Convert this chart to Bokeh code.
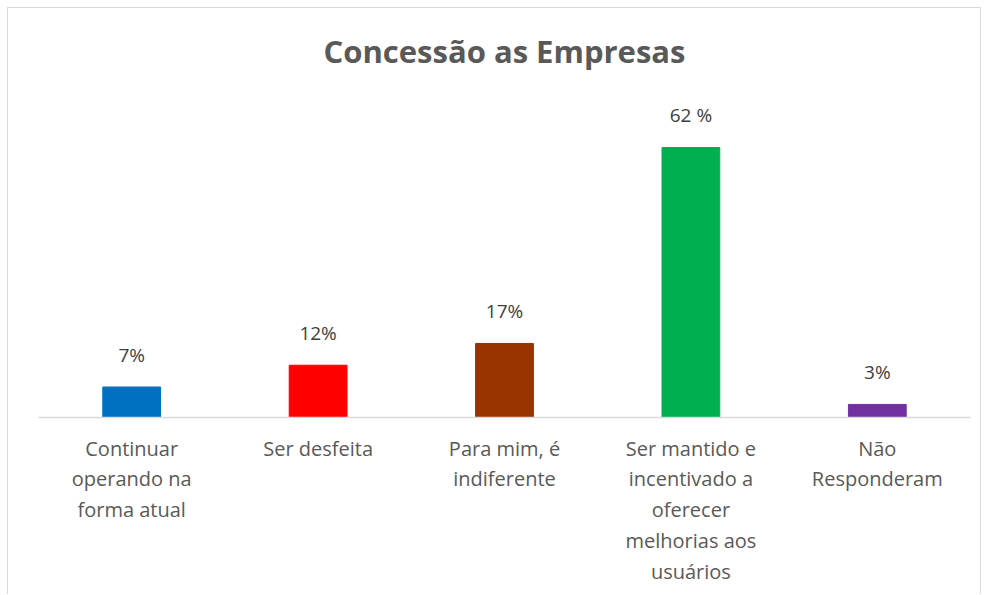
from bokeh.plotting import figure
from bokeh.models import ColumnDataSource, FactorRange, Range1d
from bokeh.core.properties import value
from bokeh.embed import file_html
from bokeh.resources import INLINE

categories = [
    "Continuar\noperando na\nforma atual",
    "Ser desfeita",
    "Para mim, é\nindiferente",
    "Ser mantido e\nincentivado a\noferecer\nmelhorias aos\nusuários",
    "Não\nResponderam",
]
values = [7, 12, 17, 62, 3]
value_labels = ["7%", "12%", "17%", "62 %", "3%"]
colors = ["#0070C0", "#FF0000", "#993300", "#00B050", "#7030A0"]

source = ColumnDataSource(dict(cat=categories, val=values, lab=value_labels, color=colors))

p = figure(
    width=974, height=587,
    x_range=FactorRange(*categories, range_padding=0),
    y_range=Range1d(0, 78.3),
    output_backend="svg", toolbar_location=None,
    min_border_left=30, min_border_right=12, min_border_bottom=178, min_border_top=68,
)
p.styles = {
    "margin-left": "7px", "margin-top": "7px",
    "border-left": "1px solid #D9D9D9", "border-top": "1px solid #D9D9D9",
    "border-right": "1px solid #D9D9D9",
}

p.title.text = "Concessão as Empresas"
p.title.align = "center"
p.title.text_font = "Open Sans"
p.title.text_font_size = "31px"
p.title.text_font_style = "bold"
p.title.text_color = "#595959"
p.title.standoff = 10

p.vbar(x="cat", top="val", width=0.31, color="color", source=source)
p.text(x="cat", y="val", text="lab", source=source, text_align="center",
       text_baseline="bottom", y_offset=-19, text_font=value("Open Sans"),
       text_font_size="19px", text_color="#404040")

p.yaxis.visible = False
p.xgrid.visible = False
p.ygrid.visible = False
p.outline_line_color = None
xa = p.xaxis[0]
xa.axis_line_color = "#D9D9D9"
xa.axis_line_width = 1.5
xa.major_tick_line_color = None
xa.minor_tick_line_color = None
xa.major_label_standoff = 11
xa.major_label_text_font = "Open Sans"
xa.major_label_text_font_size = "20px"
xa.major_label_text_color = "#595959"
xa.major_label_text_line_height = 1.14

open("out.html", "w").write(file_html(p, INLINE))
